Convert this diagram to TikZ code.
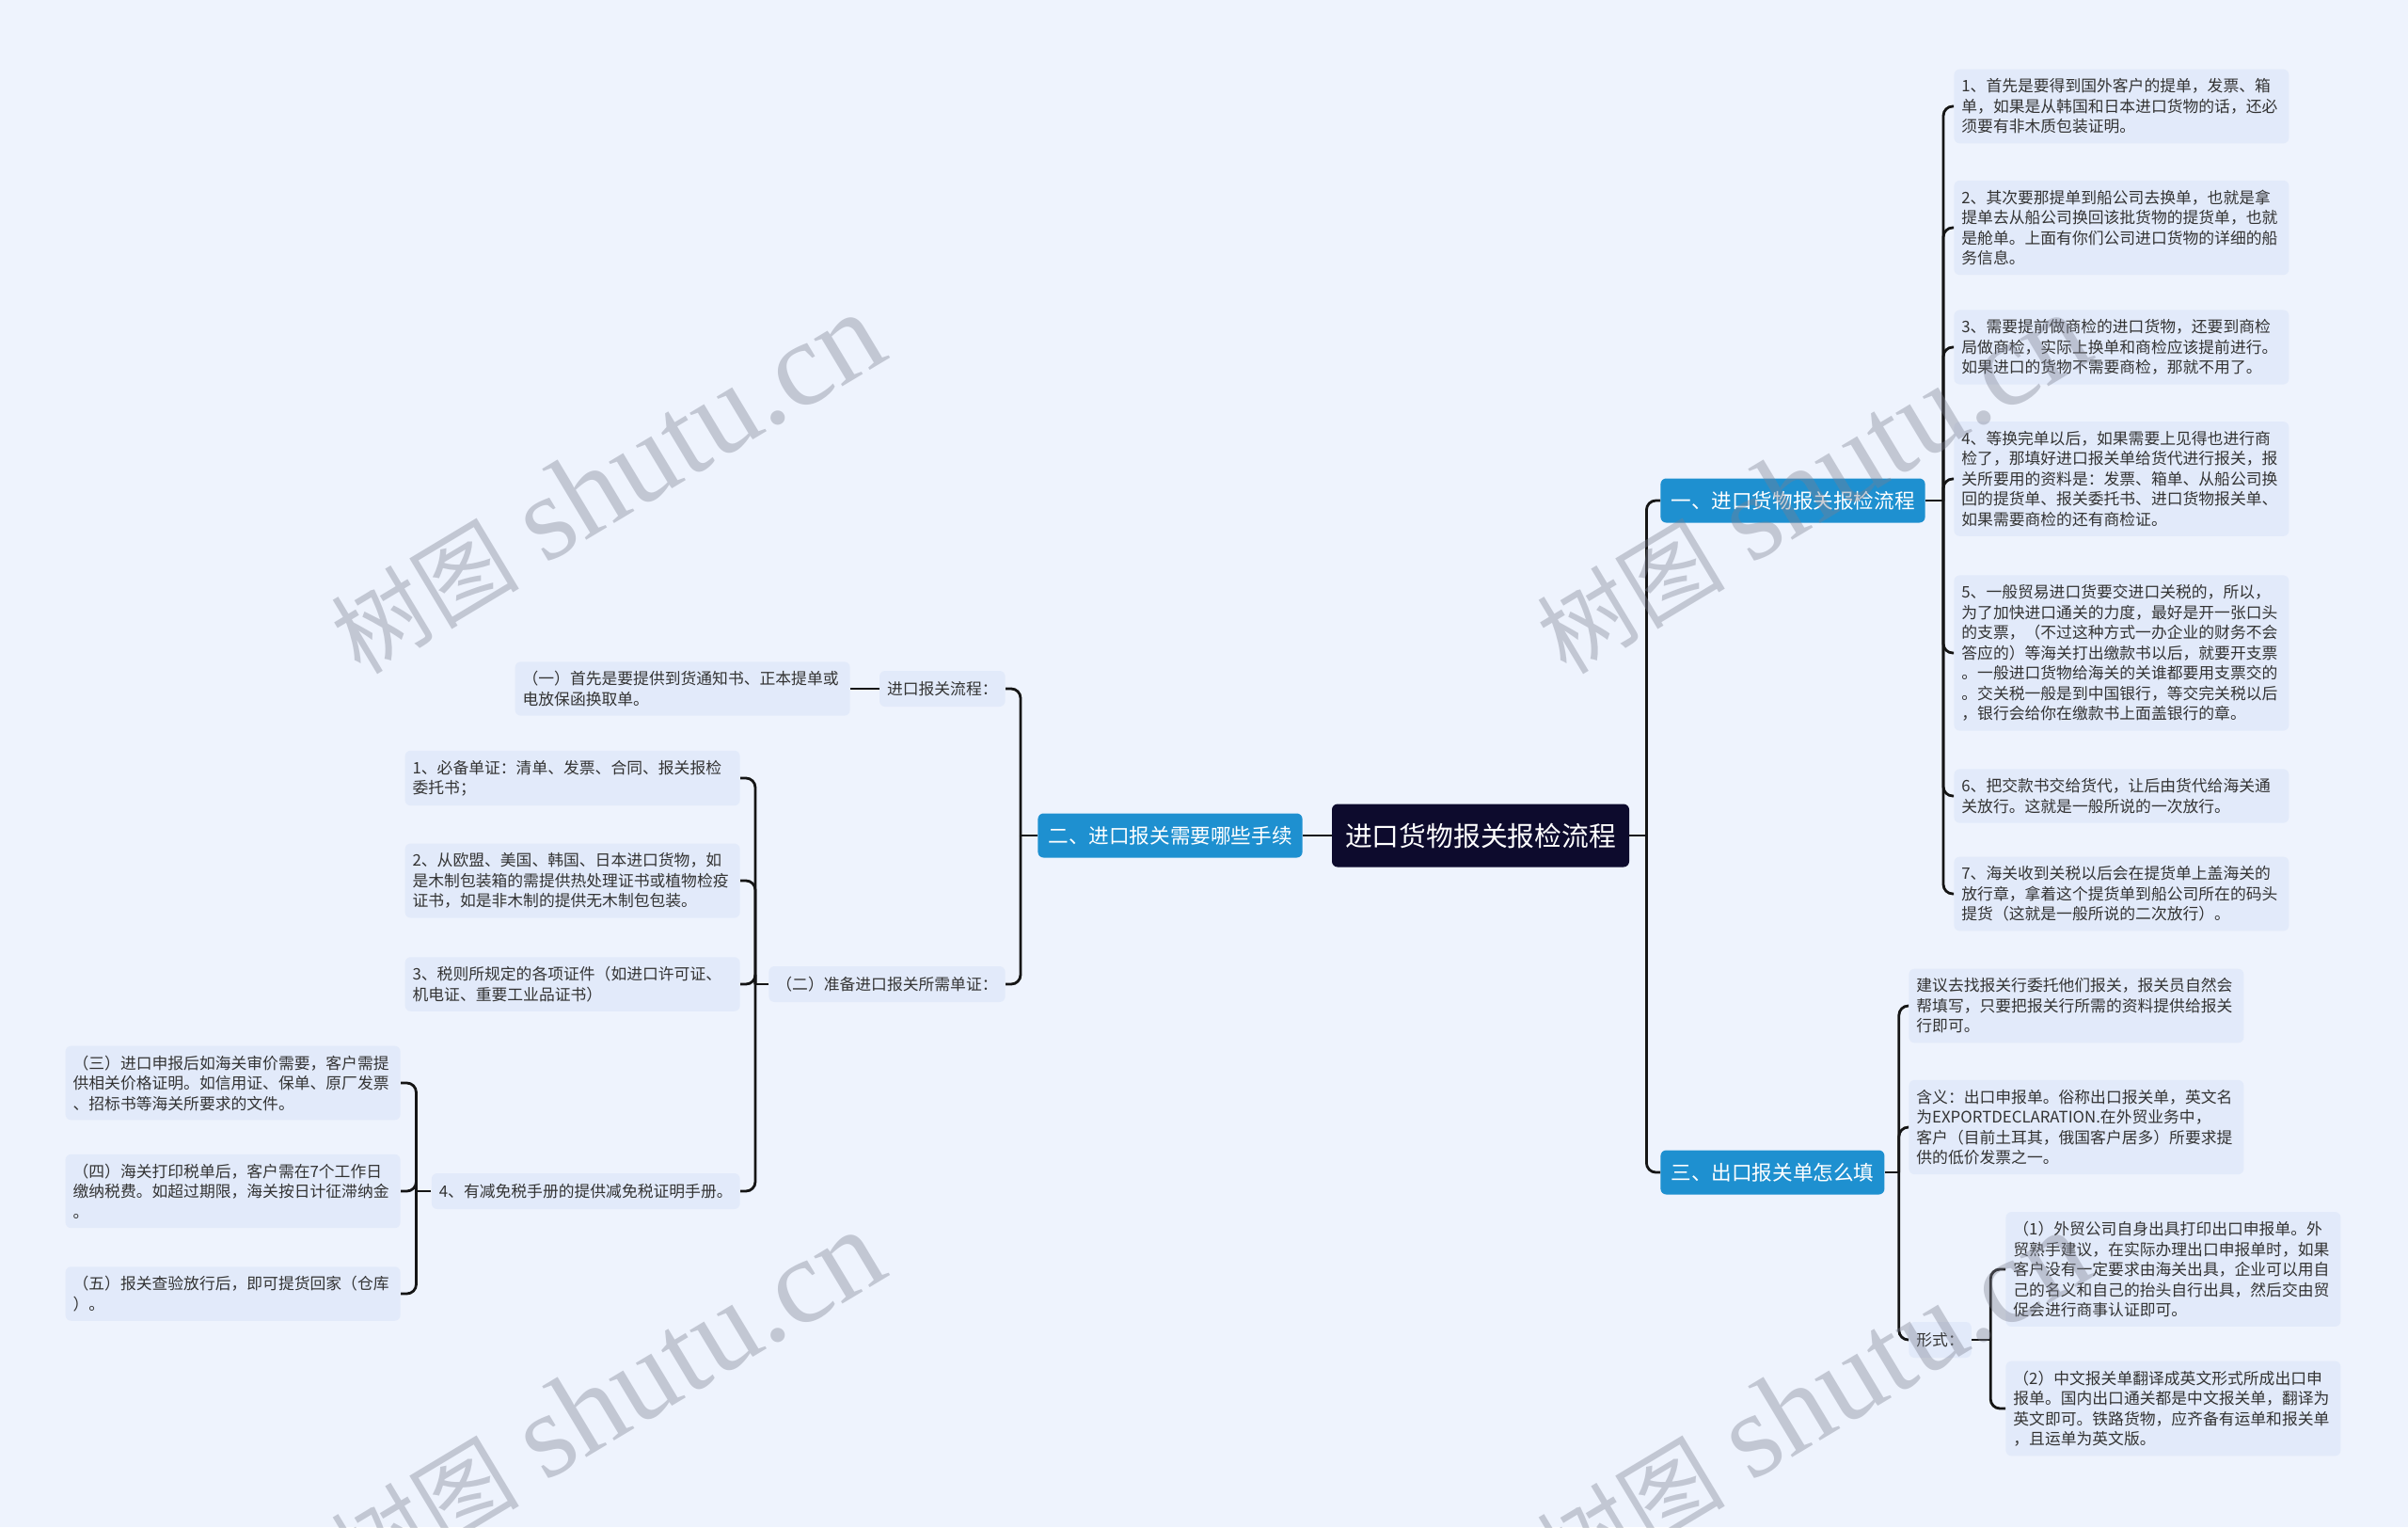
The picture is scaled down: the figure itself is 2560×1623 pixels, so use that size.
\documentclass[tikz,border=0pt]{standalone}
\usepackage{fontspec}
\setmainfont{Noto Sans CJK SC}
\newfontfamily\wmlatin{Liberation Serif}
\usepackage{xcolor}
\usetikzlibrary{positioning,calc}

\definecolor{bgcol}{HTML}{EEF3FD}
\definecolor{leafcol}{HTML}{E2EAFA}
\definecolor{textcol}{HTML}{333333}
\definecolor{branchcol}{HTML}{1E90D0}
\definecolor{rootcol}{HTML}{0D0B2D}
\definecolor{linecol}{HTML}{151515}
\definecolor{wmcol}{HTML}{7C8090}

\newcommand{\wmtext}{{\fontsize{50pt}{50pt}\selectfont 树图}\hspace{14pt}{\wmlatin\fontsize{64pt}{64pt}\selectfont shutu.cn}}

\begin{document}
\begin{tikzpicture}[
    x=0.5pt, y=-0.5pt,
    root/.style={rectangle, fill=rootcol, text=white, rounded corners=3pt, font=\fontsize{14.4pt}{16pt}\selectfont, inner xsep=7pt, minimum height=33.5pt},
    branch/.style={rectangle, fill=branchcol, text=white, rounded corners=3pt, font=\fontsize{10.8pt}{12pt}\selectfont, inner xsep=5.5pt, minimum height=23.5pt},
    leaf/.style={rectangle, fill=leafcol, text=textcol, rounded corners=3pt, font=\fontsize{8.4pt}{10.75pt}\selectfont, text width=170pt, align=left, inner xsep=4pt, inner ysep=5pt},
    tag/.style={rectangle, fill=leafcol, text=textcol, rounded corners=3pt, font=\fontsize{8.4pt}{10.75pt}\selectfont, inner xsep=4pt, minimum height=19pt},
    link/.style={draw=linecol, line width=1.4pt, rounded corners=5pt},
    wm/.style={text=wmcol, opacity=0.38, rotate=31}
]

% Background
\fill[bgcol] (0,0) rectangle (2560,1623);
\useasboundingbox (0,0) rectangle (2560,1623);

% Root
\node[root] (root) at (1574,888) {进口货物报关报检流程};

% Branches
\node[branch, anchor=west] (imp) at (1765,532) {一、进口货物报关报检流程};
\node[branch] (proc) at (1244,888) {二、进口报关需要哪些手续};
\node[branch, anchor=west] (exp) at (1765,1246) {三、出口报关单怎么填};

% Branch one: steps
\node[leaf, anchor=west] (step1) at (2077,113) {1、首先是要得到国外客户的提单，发票、箱\\单，如果是从韩国和日本进口货物的话，还必\\须要有非木质包装证明。};
\node[leaf, anchor=west] (step2) at (2077,242) {2、其次要那提单到船公司去换单，也就是拿\\提单去从船公司换回该批货物的提货单，也就\\是舱单。上面有你们公司进口货物的详细的船\\务信息。};
\node[leaf, anchor=west] (step3) at (2077,369) {3、需要提前做商检的进口货物，还要到商检\\局做商检，实际上换单和商检应该提前进行。\\如果进口的货物不需要商检，那就不用了。};
\node[leaf, anchor=west] (step4) at (2077,509) {4、等换完单以后，如果需要上见得也进行商\\检了，那填好进口报关单给货代进行报关，报\\关所要用的资料是：发票、箱单、从船公司换\\回的提货单、报关委托书、进口货物报关单、\\如果需要商检的还有商检证。};
\node[leaf, anchor=west] (step5) at (2077,694) {5、一般贸易进口货要交进口关税的，所以，\\为了加快进口通关的力度，最好是开一张口头\\的支票，（不过这种方式一办企业的财务不会\\答应的）等海关打出缴款书以后，就要开支票\\。一般进口货物给海关的关谁都要用支票交的\\。交关税一般是到中国银行，等交完关税以后\\，银行会给你在缴款书上面盖银行的章。};
\node[leaf, anchor=west] (step6) at (2077,846) {6、把交款书交给货代，让后由货代给海关通\\关放行。这就是一般所说的一次放行。};
\node[leaf, anchor=west] (step7) at (2077,950) {7、海关收到关税以后会在提货单上盖海关的\\放行章，拿着这个提货单到船公司所在的码头\\提货（这就是一般所说的二次放行）。};

% Branch two: procedures
\node[tag, anchor=east] (flow) at (1069,732) {进口报关流程：};
\node[leaf, anchor=east] (notice) at (904,732) {（一）首先是要提供到货通知书、正本提单或\\电放保函换取单。};
\node[tag, anchor=east] (docs) at (1069,1046) {（二）准备进口报关所需单证：};
\node[leaf, anchor=east] (doc1) at (787,827) {1、必备单证：清单、发票、合同、报关报检\\委托书；};
\node[leaf, anchor=east] (doc2) at (787,936) {2、从欧盟、美国、韩国、日本进口货物，如\\是木制包装箱的需提供热处理证书或植物检疫\\证书，如是非木制的提供无木制包包装。};
\node[leaf, anchor=east] (doc3) at (787,1046) {3、税则所规定的各项证件（如进口许可证、\\机电证、重要工业品证书）};
\node[tag, anchor=east] (doc4) at (787,1266) {4、有减免税手册的提供减免税证明手册。};
\node[leaf, anchor=east] (tax1) at (426,1151) {（三）进口申报后如海关审价需要，客户需提\\供相关价格证明。如信用证、保单、原厂发票\\、招标书等海关所要求的文件。};
\node[leaf, anchor=east] (tax2) at (426,1266) {（四）海关打印税单后，客户需在7个工作日\\缴纳税费。如超过期限，海关按日计征滞纳金\\。};
\node[leaf, anchor=east] (tax3) at (426,1375) {（五）报关查验放行后，即可提货回家（仓库\\）。};

% Branch three: export form
\node[leaf, anchor=west] (advice) at (2029,1069) {建议去找报关行委托他们报关，报关员自然会\\帮填写，只要把报关行所需的资料提供给报关\\行即可。};
\node[leaf, anchor=west] (meaning) at (2029,1198) {含义：出口申报单。俗称出口报关单，英文名\\为EXPORTDECLARATION.在外贸业务中，\\客户（目前土耳其，俄国客户居多）所要求提\\供的低价发票之一。};
\node[tag, anchor=west] (form) at (2029,1424) {形式：};
\node[leaf, anchor=west] (form1) at (2132,1349) {（1）外贸公司自身出具打印出口申报单。外\\贸熟手建议，在实际办理出口申报单时，如果\\客户没有一定要求由海关出具，企业可以用自\\己的名义和自己的抬头自行出具，然后交由贸\\促会进行商事认证即可。};
\node[leaf, anchor=west] (form2) at (2132,1497) {（2）中文报关单翻译成英文形式所成出口申\\报单。国内出口通关都是中文报关单，翻译为\\英文即可。铁路货物，应齐备有运单和报关单\\，且运单为英文版。};

% Connections
\draw[link] (root.east) -- ++(18,0) coordinate (rootfork);
\draw[link] (rootfork) |- (imp.west);
\draw[link] (rootfork) |- (exp.west);
\draw[link] (root.west) -- (proc.east);

\draw[link] (imp.east) -- ++(19,0) coordinate (impfork);
\foreach \n in {step1,step2,step3,step4,step5,step6,step7}
    \draw[link] (impfork) |- (\n.west);

\draw[link] (proc.west) -- ++(-18,0) coordinate (procfork);
\draw[link] (procfork) |- (flow.east);
\draw[link] (procfork) |- (docs.east);
\draw[link] (flow.west) -- (notice.east);

\draw[link] (docs.west) -- ++(-14,0) coordinate (docsfork);
\foreach \n in {doc1,doc2,doc3,doc4}
    \draw[link] (docsfork) |- (\n.east);

\draw[link] (doc4.west) -- ++(-16,0) coordinate (taxfork);
\foreach \n in {tax1,tax2,tax3}
    \draw[link] (taxfork) |- (\n.east);

\draw[link] (exp.east) -- ++(15,0) coordinate (expfork);
\foreach \n in {advice,meaning,form}
    \draw[link] (expfork) |- (\n.west);

\draw[link] (form.east) -- ++(20,0) coordinate (formfork);
\draw[link] (formfork) |- (form1.west);
\draw[link] (formfork) |- (form2.west);

% Watermarks
\node[wm] (wmA) at (645,514) {\wmtext};
\node[wm] (wmB) at (1927,514) {\wmtext};
\node[wm] (wmC) at (645,1489) {\wmtext};
\node[wm] (wmD) at (1927,1489) {\wmtext};

\end{tikzpicture}
\end{document}
